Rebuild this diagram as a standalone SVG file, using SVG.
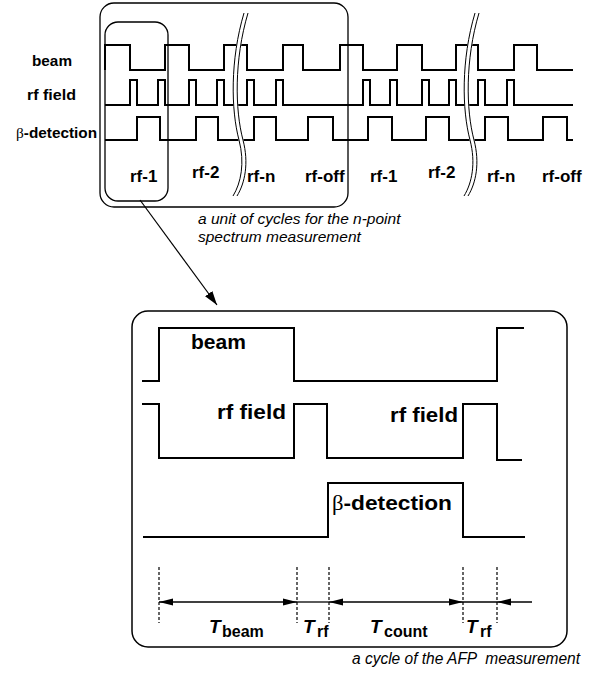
<svg xmlns="http://www.w3.org/2000/svg" width="597" height="679" viewBox="0 0 597 679">
<defs>
<style>
.wave{fill:none;stroke:#000;stroke-width:2;stroke-linejoin:miter}
.frame{fill:none;stroke:#000;stroke-width:1.3}
.lbl{font-family:"Liberation Sans",Arial,sans-serif;font-weight:bold;fill:#000}
.cap{font-family:"Liberation Sans",Arial,sans-serif;font-style:italic;fill:#000;white-space:pre}
.dash{stroke:#000;stroke-width:1.2;stroke-dasharray:3,2}
.dim{stroke:#000;stroke-width:1.3;fill:none}
.brk{fill:none;stroke:#000;stroke-width:1}
.sym{font-family:"Liberation Serif","DejaVu Serif",serif;font-weight:normal}
</style>
<marker id="ah" markerUnits="userSpaceOnUse" markerWidth="14" markerHeight="8" refX="14" refY="4" orient="auto-start-reverse">
<path d="M0,0.5 L14,4 L0,7.5 z" fill="#000"/>
</marker>
<marker id="ah2" markerUnits="userSpaceOnUse" markerWidth="14" markerHeight="10" refX="14" refY="5" orient="auto">
<path d="M0,0.5 L14,5 L0,9.5 z" fill="#000"/>
</marker>
<path id="brkpath" d="M244,13 C230,60 231,110 239,140 C245,163 241,183 233,196"/>
</defs>

<g id="top-panel">
<rect class="frame" x="100" y="3" width="248" height="204" rx="14"/>
<rect class="frame" x="105" y="22" width="63" height="179" rx="13"/>
</g>

<g id="top-row-labels">
<text class="lbl" x="32" y="66" font-size="15" textLength="40" lengthAdjust="spacingAndGlyphs">beam</text>
<text class="lbl" x="27" y="100" font-size="15" textLength="49" lengthAdjust="spacingAndGlyphs">rf field</text>
<text class="lbl" x="16" y="138" font-size="15" textLength="81" lengthAdjust="spacingAndGlyphs"><tspan class="sym">β</tspan>-detection</text>
</g>

<g id="top-waves">
<path class="wave" d="M105,70 V45 H130 V70 H165 V45 H189 V70 H224 V45 H247 V70 H283 V45 H303 V70 H340 V45 H363 V70 H397 V45 H422 V70 H456 V45 H478 V70 H514 V45 H537 V70 H573"/>
<path class="wave" d="M105,105 H130 V80 H137 V105 H158 V80 H165 V105 H189 V80 H196 V105 H217 V80 H224 V105 H247 V80 H254 V105 H276 V80 H283 V105 H363 V80 H370 V105 H390 V80 H397 V105 H422 V80 H429 V105 H449 V80 H456 V105 H478 V80 H485 V105 H507 V80 H514 V105 H573"/>
<path class="wave" d="M105,140 H137 V117 H160 V140 H196 V117 H218 V140 H254 V117 H276 V140 H308 V117 H333 V140 H368 V117 H392 V140 H426 V117 H449 V140 H485 V117 H508 V140 H543 V117 H567 V140 H573"/>
</g>

<g id="break-1">
<use href="#brkpath" transform="translate(2,0)" style="fill:none;stroke:#fff;stroke-width:5"/>
<use href="#brkpath" class="brk"/>
<use href="#brkpath" class="brk" transform="translate(4,0)"/>
</g>
<g id="break-2">
<use href="#brkpath" transform="translate(233,0)" style="fill:none;stroke:#fff;stroke-width:5"/>
<use href="#brkpath" class="brk" transform="translate(231,0)"/>
<use href="#brkpath" class="brk" transform="translate(235,0)"/>
</g>

<g id="rf-labels">
<text class="lbl" x="130" y="182" font-size="17">rf-1</text>
<text class="lbl" x="192" y="178" font-size="17">rf-2</text>
<text class="lbl" x="247" y="182" font-size="17">rf-n</text>
<text class="lbl" x="305" y="182" font-size="17">rf-off</text>
<text class="lbl" x="370" y="182" font-size="17">rf-1</text>
<text class="lbl" x="428" y="178" font-size="17">rf-2</text>
<text class="lbl" x="487" y="182" font-size="17">rf-n</text>
<text class="lbl" x="542" y="182" font-size="17">rf-off</text>
</g>

<g id="caption-unit">
<text class="cap" x="198" y="224" font-size="15.5">a unit of cycles for the n-point</text>
<text class="cap" x="198" y="242" font-size="15.5">spectrum measurement</text>
</g>

<g id="connectors">
<line x1="140" y1="200" x2="217" y2="305" stroke="#000" stroke-width="1.2" marker-end="url(#ah2)"/>
</g>

<g id="bottom-panel">
<rect class="frame" x="132" y="311" width="435" height="336" rx="16" style="stroke-width:1.5"/>
</g>

<g id="bottom-waves">
<path class="wave" d="M142,381 H159 V328 H294 V381 H497 V328 H524"/>
<path class="wave" d="M142,404 H159 V458 H294 V404 H327 V458 H463 V404 H497 V460 H522"/>
<path class="wave" d="M143,537 H328 V483 H463 V537 H525"/>
</g>

<g id="bottom-labels">
<text class="lbl" x="191" y="349" font-size="21">beam</text>
<text class="lbl" x="217" y="419" font-size="21" textLength="69" lengthAdjust="spacingAndGlyphs">rf field</text>
<text class="lbl" x="390" y="422" font-size="21" textLength="68" lengthAdjust="spacingAndGlyphs">rf field</text>
<text class="lbl" x="332" y="510" font-size="20" textLength="120" lengthAdjust="spacingAndGlyphs"><tspan class="sym">β</tspan>-detection</text>
</g>

<g id="timing">
<line class="dash" x1="159" y1="567" x2="159" y2="623"/>
<line class="dash" x1="297" y1="567" x2="297" y2="623"/>
<line class="dash" x1="329" y1="567" x2="329" y2="623"/>
<line class="dash" x1="463" y1="567" x2="463" y2="623"/>
<line class="dash" x1="497" y1="567" x2="497" y2="623"/>
<line class="dim" x1="159" y1="602" x2="297" y2="602" marker-start="url(#ah)" marker-end="url(#ah)"/>
<line class="dim" x1="297" y1="602" x2="329" y2="602"/>
<line class="dim" x1="329" y1="602" x2="463" y2="602" marker-start="url(#ah)" marker-end="url(#ah)"/>
<line class="dim" x1="463" y1="602" x2="497" y2="602"/>
<line class="dim" x1="497" y1="602" x2="532" y2="602" marker-start="url(#ah)"/>
</g>

<g id="timing-labels">
<text class="lbl" x="209" y="633" font-size="19" font-style="italic">T</text>
<text class="lbl" x="222" y="637" font-size="16">beam</text>
<text class="lbl" x="303" y="633" font-size="19" font-style="italic">T</text>
<text class="lbl" x="317" y="637" font-size="16">rf</text>
<text class="lbl" x="370" y="633" font-size="19" font-style="italic">T</text>
<text class="lbl" x="384" y="637" font-size="16">count</text>
<text class="lbl" x="466" y="633" font-size="19" font-style="italic">T</text>
<text class="lbl" x="480" y="637" font-size="16">rf</text>
</g>

<g id="caption-cycle">
<text class="cap" x="352" y="664" font-size="16" textLength="228" lengthAdjust="spacingAndGlyphs">a cycle of the AFP  measurement</text>
</g>
</svg>
